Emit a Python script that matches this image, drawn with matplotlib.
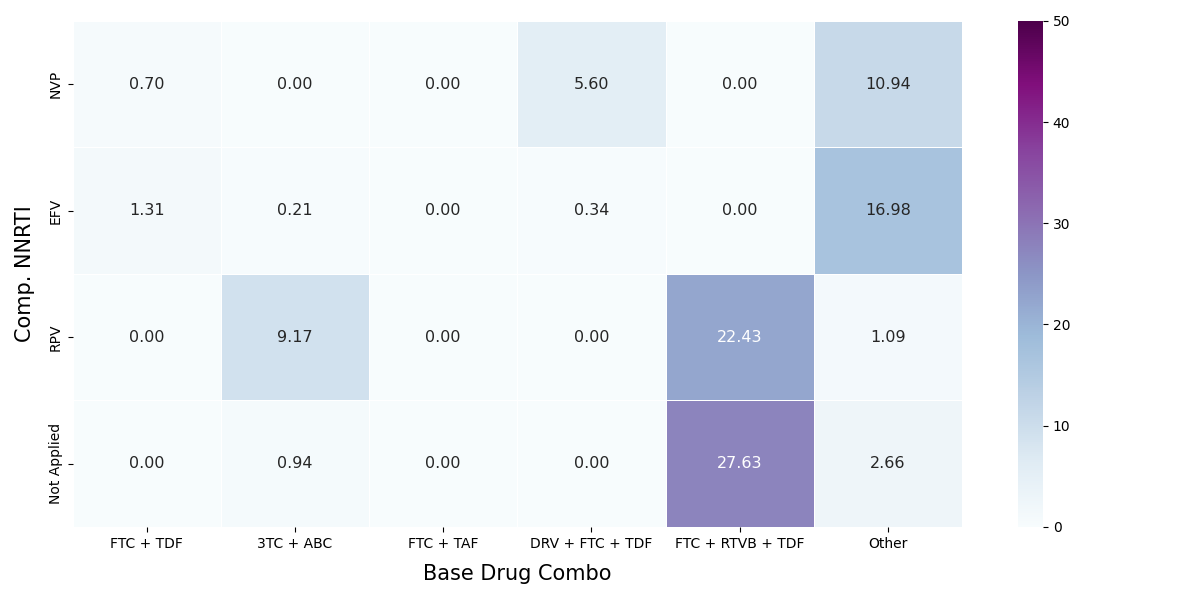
import numpy as np
import pandas as pd
import matplotlib
matplotlib.use('Agg')
import matplotlib.pyplot as plt
import seaborn as sns

# Data
base_combos = ['FTC + TDF', '3TC + ABC', 'FTC + TAF', 'DRV + FTC + TDF', 'FTC + RTVB + TDF', 'Other']
nnrti = ['NVP', 'EFV', 'RPV', 'Not Applied']

nvp_vals = [0.70, 0.00, 0.00, 5.60, 0.00, 10.94]
efv_vals = [1.31, 0.21, 0.00, 0.34, 0.00, 16.98]
rpv_vals = [0.00, 9.17, 0.00, 0.00, 22.43, 1.09]
na_vals = [0.00, 0.94, 0.00, 0.00, 27.63, 2.66]

df = pd.DataFrame([nvp_vals, efv_vals, rpv_vals, na_vals], index=nnrti, columns=base_combos)

fig, ax = plt.subplots(figsize=(12, 6), dpi=100)
sns.heatmap(df, annot=True, fmt='.2f', cmap='BuPu', vmin=0, vmax=50,
            linewidths=0.5, linecolor='white', annot_kws={'size': 11.5}, ax=ax)

ax.set_xlabel('Base Drug Combo', fontsize=15, labelpad=10)
ax.set_ylabel('Comp. NNRTI', fontsize=15, labelpad=10)
plt.xticks(rotation=0)
plt.yticks(rotation=90, va='center')
plt.subplots_adjust(left=0.0605, right=0.987, top=0.965, bottom=0.122)
fig.savefig('out.png')
